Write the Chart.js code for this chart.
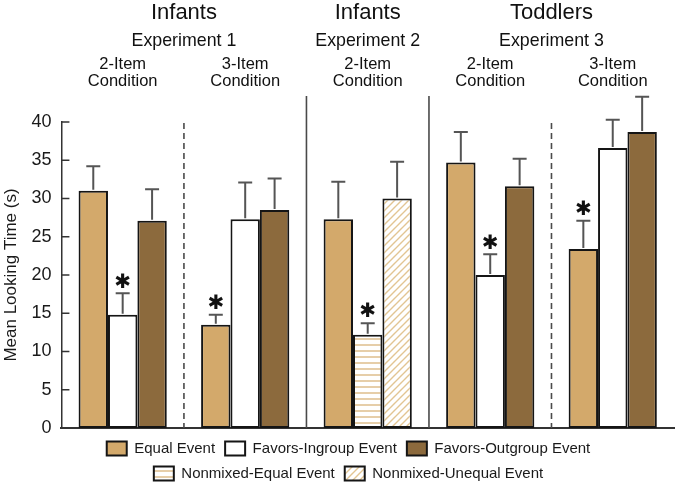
<!DOCTYPE html>
<html>
<head>
<meta charset="utf-8">
<script src="https://cdn.jsdelivr.net/npm/chart.js@4.4.0/dist/chart.umd.min.js"></script>
<style>
  html, body { margin: 0; padding: 0; background: #fff; }
  #wrap { width: 677px; height: 484px; }
</style>
</head>
<body>
<div id="wrap"><canvas id="bar-chart" width="677" height="484"></canvas></div>
<script>
// groups (left to right) and their header texts
let gruppi = ['Exp1 2-Item', 'Exp1 3-Item', 'Exp2 2-Item', 'Exp3 2-Item', 'Exp3 3-Item'];
let condizioni = [['2-Item', 'Condition'], ['3-Item', 'Condition'], ['2-Item', 'Condition'], ['2-Item', 'Condition'], ['3-Item', 'Condition']];
let eta = ['Infants', 'Infants', 'Toddlers'];
let esperimenti = ['Experiment 1', 'Experiment 2', 'Experiment 3'];
let espPrimo = [0, 2, 3];
let espUltimo = [1, 2, 4];
let separatoreTratteggiato = [true, false, false, true];

// mean looking time (s) and error (s) per series
let equalMedia = [31.0, 13.5, 27.3, 34.7, 23.4];
let equalErr = [3.2, 1.3, 4.9, 4.0, 3.7];
let ingroupMedia = [14.8, 27.3, null, 20.0, 36.6];
let ingroupErr = [2.8, 4.8, null, 2.7, 3.7];
let outgroupMedia = [27.1, 28.5, null, 31.6, 38.7];
let outgroupErr = [4.1, 4.1, null, 3.6, 4.6];
let nmEqualMedia = [null, null, 12.2, null, null];
let nmEqualErr = [null, null, 1.5, null, null];
let nmUnequalMedia = [null, null, 30.0, null, null];
let nmUnequalErr = [null, null, 4.8, null, null];

// significance stars
let equalStella = [false, true, false, false, true];
let ingroupStella = [true, false, false, true, false];
let nmEqualStella = [false, false, true, false, false];

let yTicks = [0, 5, 10, 15, 20, 25, 30, 35, 40];

const FONT = "'Liberation Sans', Arial, Helvetica, sans-serif";

function tratteggio(tipo, colore) {
    let c = document.createElement('canvas');
    let s = tipo === 'h' ? 6 : 7;
    c.width = s; c.height = s;
    let g = c.getContext('2d');
    g.fillStyle = '#fff';
    g.fillRect(0, 0, s, s);
    g.strokeStyle = colore;
    g.lineWidth = 1.4;
    g.beginPath();
    if (tipo === 'h') {
        g.moveTo(0, s / 2); g.lineTo(s, s / 2);
    } else {
        g.moveTo(-1, s + 1); g.lineTo(s + 1, -1);
        g.moveTo(-1, 1); g.lineTo(1, -1);
        g.moveTo(s - 1, s + 1); g.lineTo(s + 1, s - 1);
    }
    g.stroke();
    return document.getElementById('bar-chart').getContext('2d').createPattern(c, 'repeat');
}

let serie = [
    { label: 'Equal Event', data: equalMedia, err: equalErr, stella: equalStella, backgroundColor: '#d3a96b' },
    { label: 'Favors-Ingroup Event', data: ingroupMedia, err: ingroupErr, stella: ingroupStella, backgroundColor: '#ffffff' },
    { label: 'Favors-Outgroup Event', data: outgroupMedia, err: outgroupErr, stella: null, backgroundColor: '#8c6a3d' },
    { label: 'Nonmixed-Equal Event', data: nmEqualMedia, err: nmEqualErr, stella: nmEqualStella, backgroundColor: tratteggio('h', '#dcb984') },
    { label: 'Nonmixed-Unequal Event', data: nmUnequalMedia, err: nmUnequalErr, stella: null, backgroundColor: tratteggio('d', '#e2c593') }
];

let dati = {
    labels: gruppi,
    datasets: serie.map(s => ({
        label: s.label,
        data: s.data,
        backgroundColor: s.backgroundColor,
        borderColor: '#151515',
        borderWidth: 2,
        borderSkipped: false,
        skipNull: true,
        categoryPercentage: 0.72,
        barPercentage: 1.0
    }))
};

// error bars, stars, separators, inward ticks and headers
let extra = {
    id: 'extra',
    afterLayout(chart) {
        // legend sits a bit right of centre and close under the axis
        let l = chart.legend;
        l.left += 11; l.right += 11;
        l.top -= 5; l.bottom -= 5;
    },
    afterDatasetsDraw(chart) {
        let ctx = chart.ctx;
        let y = chart.scales.y;
        let x = chart.scales.x;
        let area = chart.chartArea;

        ctx.save();
        // separators
        for (let i = 0; i < separatoreTratteggiato.length; i++) {
            let px = (x.getPixelForValue(i) + x.getPixelForValue(i + 1)) / 2;
            ctx.beginPath();
            ctx.strokeStyle = '#4a4a4a';
            ctx.lineWidth = 1.6;
            if (separatoreTratteggiato[i]) {
                ctx.setLineDash([6, 4]);
                ctx.moveTo(px, area.top + 1);
            } else {
                ctx.setLineDash([]);
                ctx.moveTo(px, area.top - 26);
            }
            ctx.lineTo(px, area.bottom);
            ctx.stroke();
        }
        ctx.setLineDash([]);

        // error bars
        serie.forEach((s, d) => {
            let meta = chart.getDatasetMeta(d);
            meta.data.forEach((bar, i) => {
                if (s.data[i] === null) return;
                let top = y.getPixelForValue(s.data[i] + s.err[i]);
                ctx.beginPath();
                ctx.strokeStyle = '#555';
                ctx.lineWidth = 2;
                ctx.moveTo(bar.x, bar.y - 1);
                ctx.lineTo(bar.x, top);
                ctx.moveTo(bar.x - 7, top);
                ctx.lineTo(bar.x + 7, top);
                ctx.stroke();
                if (s.stella && s.stella[i]) {
                    ctx.fillStyle = '#111';
                    ctx.font = "bold 20px 'DejaVu Sans', sans-serif";
                    ctx.textAlign = 'center';
                    ctx.textBaseline = 'middle';
                    ctx.fillText('\u2731', bar.x, top - 11);
                }
            });
        });

        // inward y ticks
        ctx.beginPath();
        ctx.strokeStyle = '#333';
        ctx.lineWidth = 1.5;
        yTicks.forEach(t => {
            let py = y.getPixelForValue(t);
            ctx.moveTo(area.left, py);
            ctx.lineTo(area.left + 8, py);
        });
        ctx.stroke();

        // headers
        ctx.fillStyle = '#111';
        ctx.textAlign = 'center';
        ctx.textBaseline = 'middle';
        for (let e = 0; e < esperimenti.length; e++) {
            let cx = (x.getPixelForValue(espPrimo[e]) + x.getPixelForValue(espUltimo[e])) / 2;
            ctx.font = '22px ' + FONT;
            ctx.fillText(eta[e], cx, 13);
            ctx.font = '17.8px ' + FONT;
            ctx.fillText(esperimenti[e], cx, 41);
        }
        ctx.font = '16.5px ' + FONT;
        condizioni.forEach((righe, i) => {
            let cx = x.getPixelForValue(i);
            ctx.fillText(righe[0], cx, 64);
            ctx.fillText(righe[1], cx, 81);
        });
        ctx.restore();
    }
};

let config = {
    type: 'bar',
    data: dati,
    options: {
        responsive: false,
        animation: false,
        layout: { padding: { top: 122, left: 1, right: 3, bottom: -12 } },
        scales: {
            x: {
                grid: { display: false },
                ticks: { display: false },
                border: { display: true, color: '#333', width: 2 }
            },
            y: {
                min: 0,
                max: 40,
                grid: { display: false, drawTicks: false },
                border: { display: true, color: '#333', width: 1.5 },
                ticks: {
                    stepSize: 5,
                    padding: 10,
                    color: '#1a1a1a',
                    font: { family: FONT, size: 18 }
                },
                title: {
                    display: true,
                    text: 'Mean Looking Time (s)',
                    color: '#1a1a1a',
                    font: { family: FONT, size: 17 },
                    padding: { top: 0, bottom: 0 }
                }
            }
        },
        plugins: {
            tooltip: { enabled: false },
            legend: {
                position: 'bottom',
                labels: {
                    boxWidth: 20,
                    boxHeight: 14,
                    padding: 10,
                    color: '#1a1a1a',
                    font: { family: FONT, size: 15, lineHeight: 1.0 }
                }
            }
        }
    },
    plugins: [extra]
};

let ctx = document.getElementById('bar-chart').getContext('2d');
let myChart = new Chart(ctx, config);
</script>
</body>
</html>
